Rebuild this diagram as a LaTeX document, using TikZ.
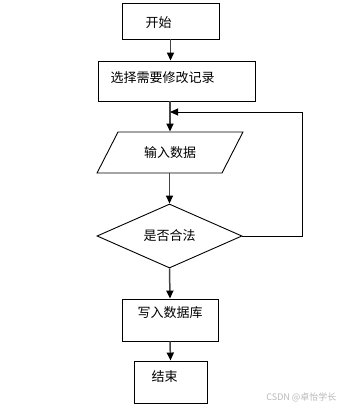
\documentclass[tikz,border=0pt]{standalone}
\usepackage{fontspec}
\setmainfont{Noto Sans CJK SC}
\usepackage{tikz}
\usetikzlibrary{arrows.meta,shapes.geometric,calc}
\definecolor{cInk}{HTML}{000000}
\definecolor{cLine}{HTML}{444444}
\definecolor{cMark}{HTML}{B8B8B8}
\tikzset{
  box/.style    = {draw=cInk, line width=0.9pt, inner sep=0pt},
  txt/.style    = {font=\fontsize{13}{15}\selectfont, inner sep=0pt},
  iobox/.style  = {box, trapezium, trapezium left angle=49, trapezium right angle=131,
                   trapezium stretches=true},
  decide/.style = {box, diamond},
  flow/.style   = {-{Triangle[length=8pt,width=7pt,color=cInk]}, draw=cLine, line width=1.5pt},
}
\begin{document}
\begin{tikzpicture}[x=1pt, y=-1pt]
  \useasboundingbox (0,0) rectangle (344,412);
  % boxes, top to bottom
  \node[box, minimum width=97pt, minimum height=36pt,
        label={[txt,xshift=-12pt,yshift=-2pt]center:开始}] (start) at (170.5,21) {};
  \node[box, minimum width=157pt, minimum height=40pt,
        label={[txt,xshift=-14pt,yshift=3pt]center:选择需要修改记录}] (sel) at (176.5,81) {};
  \node[iobox, minimum width=146pt, minimum height=41pt, txt] (inp) at (170,152.5) {输入数据};
  \node[decide, minimum width=145pt, minimum height=62pt, txt] (chk) at (169.5,236) {是否合法};
  \node[box, minimum width=96pt, minimum height=42pt,
        label={[txt,yshift=7pt]center:写入数据库}] (save) at (170,320) {};
  \node[box, minimum width=73pt, minimum height=42pt,
        label={[txt,xshift=-6pt,yshift=5pt]center:结束}] (stop) at (170.5,382) {};
  % loop back
  \coordinate (loopR) at (302,112);
  \coordinate (merge) at (170,112);
  % flows
  \draw[flow] (start) -- (start |- sel.north);
  \draw[flow] (inp.north |- sel.south) -- (inp.north);
  \draw[flow] (inp.south -| chk.north) -- (chk.north);
  \draw[flow] (chk.south) -- (save.north);
  \draw[flow] (save.south) -- (stop.north);
  \draw[draw=cInk, line width=0.9pt] (chk.east) -| (loopR);
  \draw[flow, draw=cInk, line width=0.9pt] (loopR) -- (merge);
  % watermark
  \node[font=\fontsize{9}{10}\selectfont, text=cMark, anchor=east] (mark) at (340,397) {CSDN @卓怡学长};
\end{tikzpicture}
\end{document}
